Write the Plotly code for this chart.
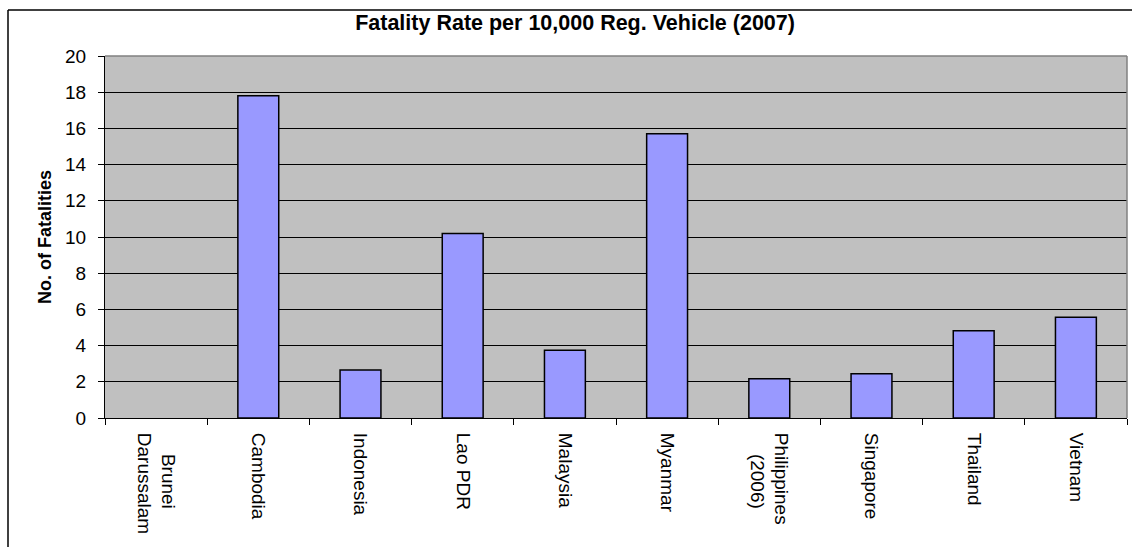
"""Fatality rate bar chart (plotly)"""

import plotly.graph_objects as go

countries = [
    "&nbsp;&nbsp;&nbsp;&nbsp;Brunei<br>Darussalam", "Cambodia", "Indonesia", "Lao PDR", "Malaysia",
    "Myanmar", "Philippines<br>&nbsp;&nbsp;&nbsp;&nbsp;(2006)", "Singapore", "Thailand", "Vietnam",
]
rates = [None, 17.8, 2.65, 10.2, 3.74, 15.7, 2.17, 2.45, 4.82, 5.56]
y_ticks = [0, 2, 4, 6, 8, 10, 12, 14, 16, 18, 20]

FONT = "Liberation Sans, Arial, sans-serif"

fig = go.Figure()

fig.add_trace(
    go.Bar(
        x=countries,
        y=rates,
        marker=dict(color="#9999FF", line=dict(color="#000000", width=1.5)),
        width=0.4,
    )
)

fig.update_layout(
    width=1132,
    height=547,
    margin=dict(l=105, r=5, t=56, b=129, autoexpand=False),
    paper_bgcolor="#FFFFFF",
    plot_bgcolor="#C0C0C0",
    showlegend=False,
    font=dict(family=FONT, color="#000000", size=19),
    title=dict(
        text="<b>Fatality Rate per 10,000 Reg. Vehicle (2007)</b>",
        font=dict(family=FONT, size=21.5, color="#000000"),
        x=0.508, xanchor="center",
        y=1 - 22 / 547, yanchor="middle",
    ),
)

fig.update_xaxes(
    type="category",
    tickangle=90,
    tickson="boundaries",
    ticks="outside",
    ticklen=6,
    tickcolor="#000000",
    showline=True,
    linecolor="#000000",
    linewidth=1,
    showgrid=False,
    ticklabelstandoff=10,
    tickfont=dict(family=FONT, size=19),
)
fig.update_yaxes(
    range=[0, 20],
    tickvals=y_ticks,
    ticks="outside",
    ticklen=6,
    tickcolor="#000000",
    showline=True,
    linecolor="#000000",
    linewidth=1,
    showgrid=True,
    gridcolor="#000000",
    gridwidth=1,
    zeroline=False,
    ticklabelstandoff=8,
    tickfont=dict(family=FONT, size=19),
)

# axis title
fig.add_annotation(
    text="<b>No. of Fatalities</b>",
    xref="paper", yref="paper",
    x=(45 - 105) / 1022, y=0.5,
    xanchor="center", yanchor="middle",
    textangle=-90, showarrow=False,
    font=dict(family=FONT, size=18, color="#000000"),
)

# grey frame (top + right) of the plot area
fig.add_shape(type="line", xref="paper", yref="paper", x0=0, x1=1, y0=1, y1=1,
              line=dict(color="#808080", width=1.5), layer="above")
fig.add_shape(type="line", xref="paper", yref="paper", x0=1, x1=1, y0=0, y1=1,
              line=dict(color="#808080", width=1.5), layer="above")

# outer chart border (left + top)
bx = (8 - 105) / 1022
by = (418 - 10) / 362
fig.add_shape(type="line", xref="paper", yref="paper", x0=bx, x1=bx, y0=-1, y1=by,
              line=dict(color="#000000", width=1.5))
fig.add_shape(type="line", xref="paper", yref="paper", x0=bx, x1=1.2, y0=by, y1=by,
              line=dict(color="#000000", width=1.5))

fig.write_html(
    "out.html",
    config={"displayModeBar": False},
    post_script="document.body.style.margin='0';document.body.style.overflow='hidden';",
)
